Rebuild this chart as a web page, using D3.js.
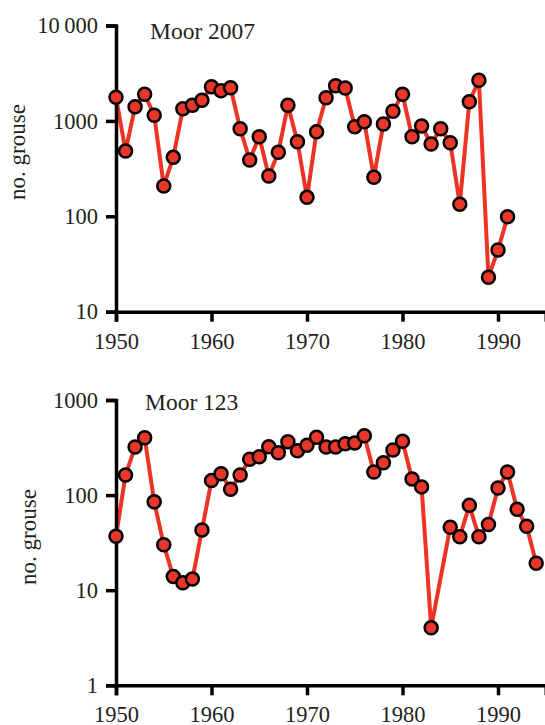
<!DOCTYPE html>
<html><head><meta charset="utf-8">
<script src="https://cdn.jsdelivr.net/npm/d3@7"></script>
<style>body{margin:0;background:#fff}svg{display:block}</style>
</head><body>
<script>
const yearsA = d3.range(1950, 1992);
const valuesA = [1770,484,1410,1900,1146,208,415,1343,1456,1643,2282,2073,2228,828,389,683,265,469,1458,605,158,771,1750,2339,2214,869,981,256,929,1262,1900,683,885,573,828,590,134,1589,2666,23,44.4,99];
const yearsB = [1950,1951,1952,1953,1954,1955,1956,1957,1958,1959,1960,1961,1962,1963,1964,1965,1966,1967,1968,1969,1970,1971,1972,1973,1974,1975,1976,1977,1978,1979,1980,1981,1982,1983,1985,1986,1987,1988,1989,1990,1991,1992,1993,1994];
const valuesB = [37,163,320,401,85,30,13.9,12,13.1,43,142,168,115,163,238,253,323,279,364,293,334,405,320,320,347,353,421,175,219,298,368,148,122,4.03,46,36.5,78,36.5,49,119,175,71,47,19.2];
const xTicks = [1950,1960,1970,1980,1990];
const yTicksA = [10,100,1000,10000];
const yTickLabelsA = ["10","100","1000","10\u2009000"];
const yTicksB = [1,10,100,1000];
const yTickLabelsB = ["1","10","100","1000"];

const W = 545, H = 725;
const svg = d3.select("body").append("svg").attr("width", W).attr("height", H);
const font = "Liberation Serif, Times New Roman, serif";

function panel(opt){
  const x = d3.scaleLinear().domain([1950, 1995]).range([116, 545.75]);
  const y = d3.scaleLog().domain(opt.ydom).range([opt.y0, opt.y1]);
  const g = svg.append("g");
  const data = opt.years.map((yr,i)=>({yr, v: opt.values[i]}));
  g.append("path").datum(data)
    .attr("fill","none").attr("stroke","#ee3224").attr("stroke-width",4).attr("stroke-linejoin","round")
    .attr("d", d3.line().x(d=>x(d.yr)).y(d=>y(d.v)));
  const xa = d3.axisBottom(x).tickValues(xTicks).tickFormat(d3.format("d")).tickSizeOuter(0).tickSize(10).tickPadding(11);
  const gx = g.append("g").attr("transform",`translate(0,${opt.y0})`).call(xa);
  const ya = d3.axisLeft(y).tickValues(opt.yticks).tickFormat((d,i)=>opt.ylabels[i]).tickSizeOuter(0).tickSize(10).tickPadding(8);
  const gy = g.append("g").attr("transform","translate(116,0)").call(ya);
  [gx,gy].forEach(a=>{
    a.select(".domain").attr("stroke","#000").attr("stroke-width",3.5);
    a.selectAll(".tick line").attr("stroke","#000").attr("stroke-width",3.5);
    a.selectAll(".tick text").attr("fill","#231f20").style("font-family",font).style("font-size","22.5px");
  });
  gx.selectAll(".tick text").attr("dy","0.71em");
  g.selectAll("circle").data(data).join("circle")
    .attr("cx",d=>x(d.yr)).attr("cy",d=>y(d.v)).attr("r",6.5)
    .attr("fill","#e8372a").attr("stroke","#000").attr("stroke-width",2.5);
  g.append("text").attr("x",opt.tx).attr("y",opt.ty).text(opt.title)
    .style("font-family",font).style("font-size","23.5px").attr("fill","#231f20");
  g.append("text").attr("transform",`translate(${opt.lx},${opt.ly}) rotate(-90)`)
    .attr("text-anchor","middle").text("no. grouse")
    .style("font-family",font).style("font-size","23px").attr("fill","#231f20");
}

panel({years:yearsA, values:valuesA, ydom:[10,10000], y0:311.7, y1:25.5, yticks:yTicksA, ylabels:yTickLabelsA,
  title:"Moor 2007", tx:150, ty:39, lx:25, ly:152});
panel({years:yearsB, values:valuesB, ydom:[1,1000], y0:685.3, y1:400, yticks:yTicksB, ylabels:yTickLabelsB,
  title:"Moor 123", tx:145, ty:410, lx:36, ly:537});
</script>
</body></html>
